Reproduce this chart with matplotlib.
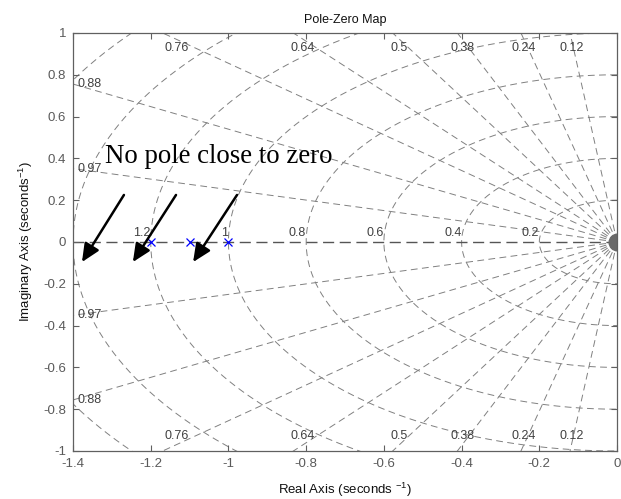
import numpy as np
import matplotlib
matplotlib.use("Agg")
import matplotlib.pyplot as plt
from matplotlib.ticker import FixedLocator, FuncFormatter

plt.rcParams['font.family'] = ['Liberation Sans', 'DejaVu Sans']
plt.rcParams['mathtext.fontset'] = 'custom'
plt.rcParams['mathtext.rm'] = 'Liberation Sans'
plt.rcParams['mathtext.it'] = 'Liberation Sans'

# ---- data ----
pole_real = [-1.2, -1.1, -1.0]
pole_imag = [0.0, 0.0, 0.0]
damping = [0.12, 0.24, 0.38, 0.5, 0.64, 0.76, 0.88, 0.97]
wn_circles = [0.2, 0.4, 0.6, 0.8, 1.0, 1.2, 1.4, 1.6]
wn_labels = [0.2, 0.4, 0.6, 0.8, 1.0, 1.2]
xticks = [-1.4, -1.2, -1.0, -0.8, -0.6, -0.4, -0.2, 0.0]
yticks = [-1.0, -0.8, -0.6, -0.4, -0.2, 0.0, 0.2, 0.4, 0.6, 0.8, 1.0]
xlim = (-1.4, 0.0)
ylim = (-1.0, 1.0)
arrow_tails = [(-1.269, 0.225), (-1.135, 0.225), (-0.978, 0.225)]
arrow_tips = [(-1.377, -0.096), (-1.246, -0.096), (-1.091, -0.096)]
note_text = "No pole close to zero"
note_pos = (-1.318, 0.378)

fig = plt.figure(figsize=(6.21, 4.99), dpi=100)
ax = fig.add_axes([0.1176, 0.0962, 0.8760, 0.8377])
ax.set_xlim(*xlim)
ax.set_ylim(*ylim)

grid_col = '#808080'
lab_col = '#404040'
dash = (0, (7, 4.5))

# damping lines (start at origin so dashes align in rings near it)
for z in damping:
    s = np.sqrt(1 - z**2)
    r = np.array([0, 3])
    for sgn in (1, -1):
        ax.plot(-z * r, sgn * s * r, color=grid_col, lw=0.7, ls=dash, zorder=1)
# natural frequency circles
th = np.linspace(np.pi / 2, 3 * np.pi / 2, 400)
for w in wn_circles:
    ax.plot(w * np.cos(th), w * np.sin(th), color=grid_col, lw=0.7, ls=dash, zorder=1)
ax.plot([0, xlim[0]], [0, 0], color='#555555', lw=1.0, ls=(0, (8, 4)), zorder=1)
ax.plot([0], [0], marker='o', ms=12, color='#6a6a6a', mec='#6a6a6a', zorder=2)

# damping labels
for z in damping:
    s = np.sqrt(1 - z**2)
    xi = -z / s * ylim[1]
    if xi >= xlim[0]:
        for sgn in (1, -1):
            ax.text(xi * 0.97, sgn * 0.928, f"{z:g}", ha='center', va='center',
                    fontsize=9, color=lab_col, zorder=3)
    else:
        yi = -xlim[0] * s / z
        for sgn in (1, -1):
            ax.text(xlim[0] + 0.012, sgn * yi, f"{z:g}", ha='left', va='center',
                    fontsize=9, color=lab_col, zorder=3)
# wn labels
for w in wn_labels:
    ax.text(-w, 0.015, f"{w:g}", ha='right', va='bottom', fontsize=9,
            color=lab_col, zorder=3)

# poles
ax.plot(pole_real, pole_imag, ls='none', marker='x', ms=6, mew=0.9,
        color='#0000ff', zorder=4)

# annotation
ax.text(note_pos[0], note_pos[1], note_text, family='Liberation Serif',
        fontsize=19.3, color='black', ha='left', va='baseline', zorder=5)
for t, h in zip(arrow_tails, arrow_tips):
    ax.annotate('', xy=h, xytext=t,
                arrowprops=dict(arrowstyle='-|>,head_length=0.55,head_width=0.25',
                                mutation_scale=20, lw=1.8, color='black',
                                shrinkA=0, shrinkB=0), zorder=5)

# axes styling
spine_col = '#606060'
for sp in ax.spines.values():
    sp.set_color(spine_col)
    sp.set_linewidth(0.9)
ax.xaxis.set_major_locator(FixedLocator(xticks))
ax.yaxis.set_major_locator(FixedLocator(yticks))
fmt = FuncFormatter(lambda v, p: f"{v:g}" if abs(v) > 1e-9 else "0")
ax.xaxis.set_major_formatter(fmt)
ax.yaxis.set_major_formatter(fmt)
ax.tick_params(direction='in', top=True, right=True, length=4, width=0.8,
               color=spine_col, labelcolor='#5a5a5a', labelsize=9.5, pad=5)

ax.set_title("Pole-Zero Map", fontsize=9, color='#111111', pad=7)
ax.set_xlabel("Real Axis (seconds $^{-1}$)", fontsize=9.5, color='#111111', labelpad=8)
ax.set_ylabel("Imaginary Axis (seconds$^{-1}$)", fontsize=9.5, color='#111111', labelpad=6)

fig.savefig("out.png", dpi=100)
